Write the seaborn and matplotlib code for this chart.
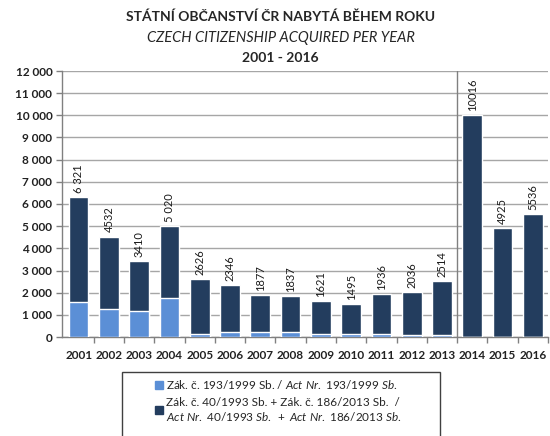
import matplotlib
matplotlib.use("Agg")
import matplotlib.pyplot as plt
from matplotlib.patches import Rectangle
import pandas as pd
import seaborn as sns

OUTPUT_FILE = "out.png"
DPI = 100

YEARS = ["2001", "2002", "2003", "2004", "2005", "2006", "2007", "2008",
         "2009", "2010", "2011", "2012", "2013", "2014", "2015", "2016"]
TOTALS = [6321, 4532, 3410, 5020, 2626, 2346, 1877, 1837,
          1621, 1495, 1936, 2036, 2514, 10016, 4925, 5536]
ACT_193 = [1580, 1250, 1160, 1780, 150, 210, 210, 210,
           140, 140, 140, 100, 90, 0, 0, 0]
LABELS = ["6 321", "4532", "3410", "5 020", "2626", "2346", "1877", "1837",
          "1621", "1495", "1936", "2036", "2514", "10016", "4925", "5536"]
Y_TICKS = [0, 1000, 2000, 3000, 4000, 5000, 6000, 7000, 8000, 9000,
           10000, 11000, 12000]
Y_TICK_LABELS = ["0", "1 000", "2 000", "3 000", "4 000", "5 000", "6 000",
                 "7 000", "8 000", "9 000", "10 000", "11 000", "12 000"]

LIGHT = "#5b8fd6"
DARK = "#233d5e"
GRID = "#a6a6a6"


def main():
    sns.set_style("white")
    plt.rcParams['font.family'] = ['Lato', 'DejaVu Sans']
    plt.rcParams['mathtext.fontset'] = 'custom'
    plt.rcParams['mathtext.rm'] = 'Lato'
    plt.rcParams['mathtext.it'] = 'Lato:italic'

    df = pd.DataFrame({"year": YEARS, "total": TOTALS, "act193": ACT_193})

    fig = plt.figure(figsize=(550 / DPI, 436 / DPI), dpi=DPI)
    ax = fig.add_axes([62 / 550, 99 / 436, 486 / 550, 266 / 436])

    # total bar in dark, Act 193/1999 part drawn over it from zero
    sns.barplot(data=df, x="year", y="total", color=DARK, saturation=1,
                width=0.65, ax=ax, zorder=3)
    sns.barplot(data=df, x="year", y="act193", color=LIGHT, saturation=1,
                width=0.65, ax=ax, zorder=3)

    for i, (val, lab) in enumerate(zip(TOTALS, LABELS)):
        ax.annotate(lab, (i, val), xytext=(0, 3), textcoords="offset points",
                    rotation=90, ha="center", va="bottom", fontsize=8,
                    color="#1a1a1a", zorder=4, annotation_clip=False)

    ax.set_xlim(-0.55, 15.5)
    ax.set_ylim(0, 12000)
    ax.set_yticks(Y_TICKS)
    ax.set_yticklabels(Y_TICK_LABELS, fontsize=8.5, fontweight="bold",
                       color="#222222")
    ax.set_xticks(range(len(YEARS)))
    ax.set_xticklabels(YEARS, fontsize=8.5, fontweight="bold", color="#222222")
    ax.set_xlabel("")
    ax.set_ylabel("")

    ax.grid(axis="y", color=GRID, linewidth=1, zorder=0)
    ax.axvline(12.5, color="#808080", linewidth=1, zorder=2)

    for side in ["top", "right"]:
        ax.spines[side].set_visible(False)
    for side in ["left", "bottom"]:
        ax.spines[side].set_color("#808080")
        ax.spines[side].set_linewidth(1)

    ax.tick_params(axis="y", left=True, length=4, width=1, color="#808080",
                   pad=3)
    ax.tick_params(axis="x", bottom=False, pad=6)
    ax.set_xticks([i - 0.5 for i in range(1, len(YEARS) + 1)], minor=True)
    ax.tick_params(axis="x", which="minor", bottom=True, length=4, width=1,
                   color="#808080")

    fig.text(0.51, 1 - 17 / 436, "STÁTNÍ OBČANSTVÍ ČR NABYTÁ BĚHEM ROKU",
             ha="center", va="center", fontsize=10, fontweight="bold")
    fig.text(0.51, 1 - 38 / 436, "CZECH CITIZENSHIP ACQUIRED PER YEAR",
             ha="center", va="center", fontsize=10.5, style="italic")
    fig.text(0.51, 1 - 58 / 436, "2001 - 2016",
             ha="center", va="center", fontsize=10, fontweight="bold")

    # legend box, cut off by the bottom edge as in the source
    fig.patches.append(Rectangle((122 / 550, -0.05), 318 / 550,
                                 0.05 + 64 / 436, transform=fig.transFigure,
                                 facecolor="white", edgecolor="#404040",
                                 linewidth=1))
    handles = [Rectangle((0, 0), 1, 1, color=LIGHT),
               Rectangle((0, 0), 1, 1, color=DARK)]
    labels = [r"Zák. č. 193/1999 Sb. / $\mathit{Act\ Nr.\ 193/1999\ Sb.}$",
              "Zák. č. 40/1993 Sb. + Zák. č. 186/2013 Sb.  /\n"
              r"$\mathit{Act\ Nr.\ 40/1993\ Sb.\ +\ Act\ Nr.\ 186/2013\ Sb.}$"]
    fig.legend(handles, labels, loc="upper left",
               bbox_to_anchor=(155 / 550, 1 - 378 / 436), frameon=False,
               fontsize=8.5, handlelength=0.65, handleheight=0.65,
               handletextpad=0.3, labelspacing=0.5, borderpad=0,
               borderaxespad=0)

    fig.savefig(OUTPUT_FILE, dpi=DPI)
    plt.close(fig)


if __name__ == "__main__":
    main()
